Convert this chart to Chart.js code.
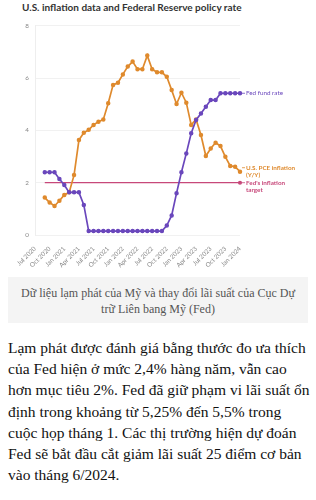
<!DOCTYPE html>
<html>
<head>
<meta charset="utf-8">
<script src="https://cdn.jsdelivr.net/npm/chart.js@4.4.1/dist/chart.umd.min.js"></script>
<style>
  html, body { margin: 0; padding: 0; background: #fff; width: 316px; height: 500px; overflow: hidden; }
  #title { position: absolute; left: 22px; top: 1px; font: bold 10px Lato, sans-serif; color: #333; white-space: nowrap; }
  #chartBox { position: absolute; left: 0; top: 16px; width: 316px; height: 254px; }
  #caption { position: absolute; left: 8px; top: 277px; width: 300px; height: 46px; background: #f4f4f4;
             font: 12px "Liberation Serif", serif; color: #555; text-align: center; line-height: 16px;
             box-sizing: border-box; padding-top: 8px; white-space: nowrap; }
  #body { position: absolute; left: 8px; top: 337px; width: 308px; font: 15.5px "Liberation Serif", serif;
          color: #111; line-height: 21.2px; margin: 0; white-space: nowrap; }
</style>
</head>
<body>
<div id="title">U.S. inflation data and Federal Reserve policy rate</div>
<div id="chartBox"><canvas id="chart"></canvas></div>
<div id="caption">Dữ liệu lạm phát của Mỹ và thay đổi lãi suất của Cục Dự<br>trữ Liên bang Mỹ (Fed)</div>
<p id="body">Lạm phát được đánh giá bằng thước đo ưa thích<br>của Fed hiện ở mức 2,4% hàng năm, vẫn cao<br>hơn mục tiêu 2%. Fed đã giữ phạm vi lãi suất ổn<br>định trong khoảng từ 5,25% đến 5,5% trong<br>cuộc họp tháng 1. Các thị trường hiện dự đoán<br>Fed sẽ bắt đầu cắt giảm lãi suất 25 điểm cơ bản<br>vào tháng 6/2024.</p>

<script>
// monthly categories, Jul 2020 .. Jan 2024
const months = [
  'Jul 2020', 'Aug 2020', 'Sep 2020', 'Oct 2020', 'Nov 2020', 'Dec 2020',
  'Jan 2021', 'Feb 2021', 'Mar 2021', 'Apr 2021', 'May 2021', 'Jun 2021',
  'Jul 2021', 'Aug 2021', 'Sep 2021', 'Oct 2021', 'Nov 2021', 'Dec 2021',
  'Jan 2022', 'Feb 2022', 'Mar 2022', 'Apr 2022', 'May 2022', 'Jun 2022',
  'Jul 2022', 'Aug 2022', 'Sep 2022', 'Oct 2022', 'Nov 2022', 'Dec 2022',
  'Jan 2023', 'Feb 2023', 'Mar 2023', 'Apr 2023', 'May 2023', 'Jun 2023',
  'Jul 2023', 'Aug 2023', 'Sep 2023', 'Oct 2023', 'Nov 2023', 'Dec 2023',
  'Jan 2024'
];

// U.S. PCE inflation (Y/Y), from Sep 2020
const pceInflation = [
  null, null,
  1.43, 1.24, 1.11, 1.31, 1.53, 1.63, 2.29, 3.63, 3.91, 4.02,
  4.21, 4.33, 4.42, 5.04, 5.74, 5.82, 6.14, 6.44, 6.63, 6.34,
  6.34, 6.86, 6.34, 6.22, 6.22, 6.05, 5.54, 5.01, 5.44, 5.06,
  4.21, 4.42, 3.82, 3.02, 3.31, 3.53, 3.40, 2.99, 2.64, 2.61,
  2.42
];

// Fed fund rate, from Sep 2020
const fedFundRate = [
  null, null,
  2.40, 2.40, 2.40, 2.14, 1.91, 1.63, 1.63, 1.63, 1.15, 0.15,
  0.15, 0.15, 0.15, 0.15, 0.15, 0.15, 0.15, 0.15, 0.15, 0.15,
  0.15, 0.15, 0.15, 0.15, 0.15, 0.36, 0.75, 1.60, 2.40, 3.12,
  3.89, 4.40, 4.65, 4.90, 5.16, 5.16, 5.42, 5.42, 5.42, 5.42,
  5.42
];

// Fed's inflation target
const inflationTarget = months.map((m, i) => i >= 2 ? 2 : null);

const yTicks = [0, 2, 4, 6, 8];

const ORANGE = '#df8a2d';
const PURPLE = '#6a47bc';
const PINK = '#c7487a';

// right-hand labels next to each series end
const endLabels = {
  id: 'endLabels',
  afterDatasetsDraw(chart) {
    const ctx = chart.ctx;
    const y = chart.scales.y;
    const x = chart.scales.x;
    const last = months.length - 1;
    const xEnd = x.getPixelForValue(last);
    const items = [
      { lines: ['Fed fund rate'], val: fedFundRate[last], color: PURPLE, bold: false, dy: 0 },
      { lines: ['U.S. PCE inflation', '(Y/Y)'], val: pceInflation[last], color: ORANGE, bold: true, dy: -4 },
      { lines: ["Fed's inflation", 'target'], val: 2, color: PINK, bold: true, dy: 0 }
    ];
    ctx.save();
    ctx.textBaseline = 'middle';
    ctx.textAlign = 'left';
    items.forEach(it => {
      const py = y.getPixelForValue(it.val) + it.dy;
      ctx.strokeStyle = it.color;
      ctx.lineWidth = 0.8;
      ctx.beginPath();
      ctx.moveTo(xEnd + 2, py);
      ctx.lineTo(xEnd + 5, py);
      ctx.stroke();
      ctx.fillStyle = it.color;
      ctx.font = (it.bold ? 'bold ' : '') + '6.3px Lato, sans-serif';
      it.lines.forEach((t, k) => ctx.fillText(t, xEnd + 6, py + k * 7));
    });
    ctx.restore();
  }
};

new Chart(document.getElementById('chart'), {
  type: 'line',
  data: {
    labels: months,
    datasets: [
      {
        label: 'Fed fund rate',
        data: fedFundRate,
        borderColor: PURPLE,
        backgroundColor: PURPLE,
        borderWidth: 1.7,
        pointRadius: 1.4,
        pointHoverRadius: 1.4,
        tension: 0
      },
      {
        label: 'U.S. PCE inflation (Y/Y)',
        data: pceInflation,
        borderColor: ORANGE,
        backgroundColor: ORANGE,
        borderWidth: 1.7,
        pointRadius: 1.4,
        pointHoverRadius: 1.4,
        tension: 0
      },
      {
        label: "Fed's inflation target",
        data: inflationTarget,
        borderColor: PINK,
        backgroundColor: PINK,
        borderWidth: 1.3,
        pointRadius: inflationTarget.map((v, i) => i === months.length - 1 ? 1.4 : 0),
        tension: 0
      }
    ]
  },
  options: {
    responsive: true,
    maintainAspectRatio: false,
    animation: false,
    layout: { padding: { top: 9, right: 76, left: 0, bottom: 0 } },
    plugins: {
      legend: { display: false },
      tooltip: { enabled: false }
    },
    scales: {
      x: {
        grid: { display: false },
        border: { display: false },
        ticks: {
          autoSkip: false,
          maxRotation: 45,
          minRotation: 45,
          color: '#888',
          padding: 2,
          font: { size: 6.3, family: 'Lato, sans-serif' },
          callback: (v, i) => i % 3 === 0 ? months[i] : ''
        },
        afterFit: s => { s.height = 35; }
      },
      y: {
        min: 0,
        max: 8,
        afterBuildTicks: s => { s.ticks = yTicks.map(v => ({ value: v })); },
        grid: { color: '#eeeeee', lineWidth: 0.8, drawTicks: false },
        border: { display: true, color: '#eeeeee' },
        ticks: {
          color: '#888',
          padding: 6,
          font: { size: 6.3, family: 'Lato, sans-serif' }
        },
        afterFit: s => { s.width = 35; }
      }
    }
  },
  plugins: [endLabels]
});
</script>
</body>
</html>
